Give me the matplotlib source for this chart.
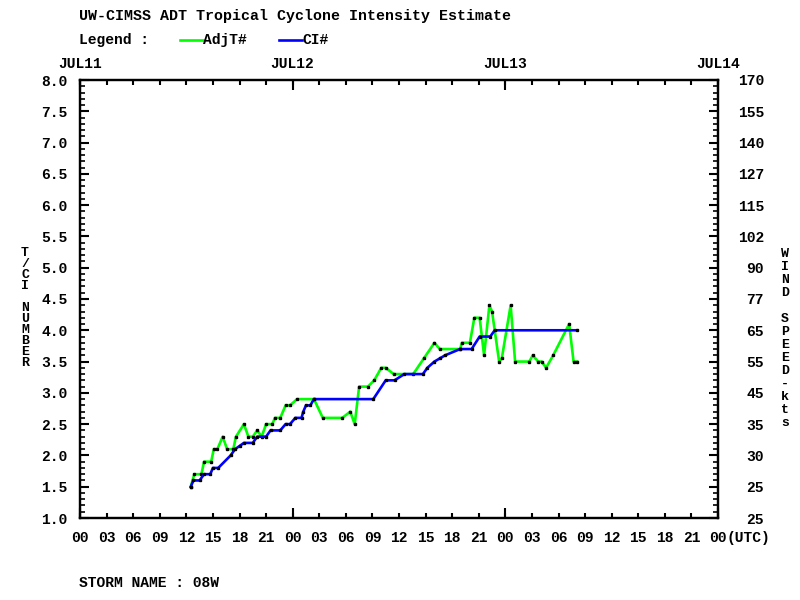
import matplotlib
matplotlib.use('Agg')
import matplotlib.pyplot as plt
from matplotlib.lines import Line2D
from matplotlib.transforms import blended_transform_factory

# AdjT# : hours since JUL11 00Z and value
adj_hours = [12.5, 12.9, 13.7, 14.0, 14.8, 15.1, 15.5, 16.1, 16.6, 17.3, 17.6, 18.5,
             19.0, 19.5, 20.0, 20.5, 21.0, 21.7, 22.0, 22.6, 23.2, 23.7, 24.5, 26.4,
             27.4, 29.6, 30.5, 31.0, 31.5, 32.5, 33.2, 34.0, 34.5, 35.4, 37.6, 38.8,
             40.0, 40.6, 42.9, 43.1, 44.0, 44.5, 45.1, 45.6, 46.2, 46.5, 47.3, 47.6,
             48.6, 49.1, 50.7, 51.1, 51.7, 52.1, 52.6, 53.4, 55.2, 55.7, 56.1]
adj_vals = [1.5, 1.7, 1.7, 1.9, 1.9, 2.1, 2.1, 2.3, 2.1, 2.1, 2.3, 2.5,
            2.3, 2.3, 2.4, 2.3, 2.5, 2.5, 2.6, 2.6, 2.8, 2.8, 2.9, 2.9,
            2.6, 2.6, 2.7, 2.5, 3.1, 3.1, 3.2, 3.4, 3.4, 3.3, 3.3, 3.55,
            3.8, 3.7, 3.7, 3.8, 3.8, 4.2, 4.2, 3.6, 4.4, 4.3, 3.5, 3.55,
            4.4, 3.5, 3.5, 3.6, 3.5, 3.5, 3.4, 3.6, 4.1, 3.5, 3.5]

# CI#
ci_hours = [12.5, 12.8, 13.5, 14.0, 14.7, 15.0, 15.6, 17.0, 17.5, 18.0, 18.5, 19.5,
            20.0, 21.0, 21.5, 22.6, 23.2, 23.7, 24.3, 25.0, 25.2, 25.5, 26.0, 26.4,
            33.1, 34.5, 35.5, 36.6, 38.7, 39.2, 40.0, 40.6, 41.2, 42.9, 44.2, 45.1,
            46.3, 46.8, 56.1]
ci_vals = [1.5, 1.6, 1.6, 1.7, 1.7, 1.8, 1.8, 2.0, 2.1, 2.15, 2.2, 2.2,
           2.3, 2.3, 2.4, 2.4, 2.5, 2.5, 2.6, 2.6, 2.7, 2.8, 2.8, 2.9,
           2.9, 3.2, 3.2, 3.3, 3.3, 3.4, 3.5, 3.55, 3.6, 3.7, 3.7, 3.9,
           3.9, 4.0, 4.0]

hour_ticks = [0, 3, 6, 9, 12, 15, 18, 21, 24, 27, 30, 33, 36, 39, 42, 45, 48,
              51, 54, 57, 60, 63, 66, 69, 72]
hour_labels = ['00', '03', '06', '09', '12', '15', '18', '21', '00', '03', '06', '09',
               '12', '15', '18', '21', '00', '03', '06', '09', '12', '15', '18', '21', '00']
day_ticks = [0, 24, 48, 72]
day_labels = ['JUL11', 'JUL12', 'JUL13', 'JUL14']
tnum_ticks = [1.0, 1.5, 2.0, 2.5, 3.0, 3.5, 4.0, 4.5, 5.0, 5.5, 6.0, 6.5, 7.0, 7.5, 8.0]
tnum_labels = ['1.0', '1.5', '2.0', '2.5', '3.0', '3.5', '4.0', '4.5', '5.0', '5.5',
               '6.0', '6.5', '7.0', '7.5', '8.0']
wind_labels = ['25', '25', '30', '35', '45', '55', '65', '77', '90', '102', '115',
               '127', '140', '155', '170']

FONT = 'Liberation Mono'
FS = 10.5
W, H = 800, 600

def fx(x):
    return x / W

def fy(y):
    return 1 - y / H

fig = plt.figure(figsize=(8, 6), dpi=100)
ax = fig.add_axes([fx(80), fy(518), 638 / W, 438 / H])

ax.plot(adj_hours, adj_vals, color='#00ff00', lw=1.9, marker='s', ms=1.5,
        mfc='black', mec='black', zorder=3)
ax.plot(ci_hours, ci_vals, color='#0000ff', lw=1.9, marker='s', ms=1.5,
        mfc='black', mec='black', zorder=4)

ax.set_xlim(0, 72)
ax.set_ylim(1, 8)
for s in ax.spines.values():
    s.set_linewidth(1.6)

# x ticks: long at day boundaries, short every 3 h
ax.xaxis.remove_overlapping_locs = False
ax.set_xticks(day_ticks)
ax.set_xticklabels([''] * len(day_ticks))
ax.set_xticks(hour_ticks, minor=True)
ax.set_xticklabels(hour_labels, minor=True, fontfamily=FONT, fontweight='bold', fontsize=FS)
ax.tick_params(axis='x', which='major', direction='in', length=7.5, width=1.5,
               top=True, bottom=True)
ax.tick_params(axis='x', which='minor', direction='in', length=3.8, width=1.5,
               top=True, bottom=True, pad=9)

# y ticks
ax.set_yticks(tnum_ticks)
ax.set_yticklabels(tnum_labels, fontfamily=FONT, fontweight='bold', fontsize=FS)
ax.set_yticks([1 + 0.1 * i for i in range(71)], minor=True)
ax.yaxis.remove_overlapping_locs = False
ax.tick_params(axis='y', which='major', direction='in', length=6.5, width=1.5, pad=9)
ax.tick_params(axis='y', which='minor', direction='in', length=3.6, width=1.2)

ax2 = ax.twinx()
ax2.set_ylim(1, 8)
ax2.set_yticks(tnum_ticks)
ax2.set_yticklabels(wind_labels, fontfamily=FONT, fontweight='bold', fontsize=FS,
                    ha='right')
ax2.set_yticks([1 + 0.1 * i for i in range(71)], minor=True)
ax2.yaxis.remove_overlapping_locs = False
ax2.tick_params(axis='y', which='major', direction='in', length=6.5, width=1.5, pad=33)
ax2.tick_params(axis='y', which='minor', direction='in', length=3.6, width=1.2)
for s in ax2.spines.values():
    s.set_linewidth(1.6)

txt = dict(fontfamily=FONT, fontweight='bold', fontsize=FS)

# day labels above the box
tr = blended_transform_factory(ax.transData, fig.transFigure)
for d, lab in zip(day_ticks, day_labels):
    ax.text(d, fy(64), lab, transform=tr, ha='center', va='center', **txt)

fig.text(fx(770), fy(538), '(UTC)', ha='right', va='center', **txt)

# title and legend
fig.text(fx(79), fy(16), 'UW-CIMSS ADT Tropical Cyclone Intensity Estimate',
         ha='left', va='center', fontfamily=FONT, fontweight='bold', fontsize=10.8)
fig.text(fx(79), fy(40), 'Legend :', ha='left', va='center', **txt)
fig.add_artist(Line2D([fx(180), fx(203)], [fy(40), fy(40)], color='#00ff00', lw=1.9))
fig.text(fx(203), fy(40), 'AdjT#', ha='left', va='center', **txt)
fig.add_artist(Line2D([fx(279), fx(302)], [fy(40), fy(40)], color='#0000ff', lw=1.9))
fig.text(fx(302), fy(40), 'CI#', ha='left', va='center', **txt)

fig.text(fx(79), fy(583), 'STORM NAME : 08W', ha='left', va='center', **txt)

# stacked axis titles
left_title = 'T/CI NUMBER'
y0 = 253
for i, ch in enumerate(left_title):
    if ch != ' ':
        fig.text(fx(25), fy(y0 + i * 11), ch, ha='center', va='center',
                 fontfamily=FONT, fontweight='bold', fontsize=9.5)

right_title = 'WIND SPEED-kts'
y0 = 254
for i, ch in enumerate(right_title):
    if ch != ' ':
        fig.text(fx(785), fy(y0 + i * 13), ch, ha='center', va='center',
                 fontfamily=FONT, fontweight='bold', fontsize=9.5)

plt.savefig('out.png', dpi=100)
